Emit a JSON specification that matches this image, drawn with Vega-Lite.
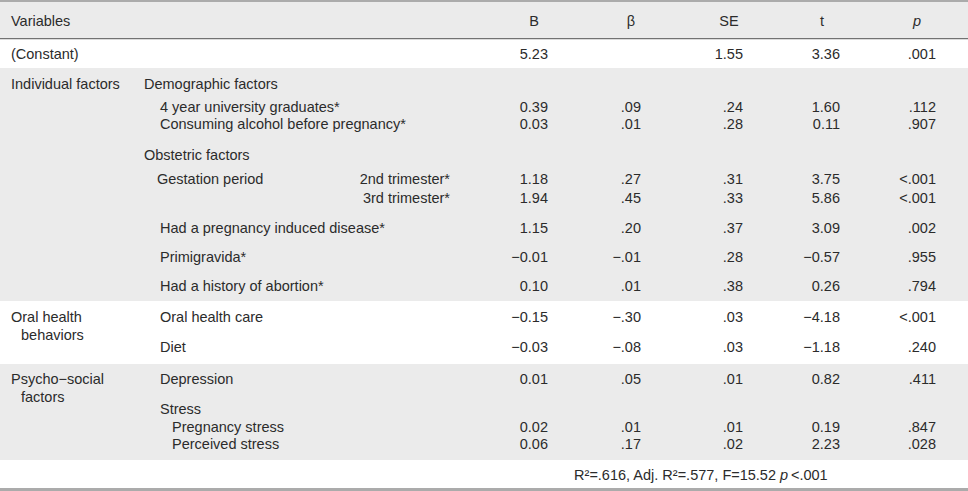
{
  "$schema": "https://vega.github.io/schema/vega-lite/v6.json",
  "width": 968,
  "height": 491,
  "padding": 0,
  "autosize": {"type": "none"},
  "background": "#ffffff",
  "config": {"view": {"stroke": null}},
  "resolve": {"scale": {"y": "independent"}},
  "layer": [
    {
      "layer": [
        {
          "data": {"values": [{"from": 1, "to": 2}, {"from": 4, "to": 5}, {"from": 6, "to": 7}]},
          "mark": {"type": "rect", "fill": "#ebebeb"},
          "encoding": {
            "y": {"field": "from", "type": "quantitative", "axis": null, "scale": {"domain": [0,1,2,3,4,5,6,7,8,9], "range": [0,2,38,39.3,68,301,364,460,488,491], "nice": false, "zero": false}},
            "y2": {"field": "to"}
          }
        },
        {
          "data": {"values": [{"from": 0, "to": 1}, {"from": 8, "to": 9}]},
          "mark": {"type": "rect", "fill": "#ababab"},
          "encoding": {
            "y": {"field": "from", "type": "quantitative", "axis": null},
            "y2": {"field": "to"}
          }
        },
        {
          "data": {"values": [{"from": 2, "to": 3}]},
          "mark": {"type": "rect", "fill": "#727272"},
          "encoding": {
            "y": {"field": "from", "type": "quantitative", "axis": null},
            "y2": {"field": "to"}
          }
        }
      ]
    },
    {
      "layer": [
        {
          "data": {"values": [
            {"col": 0, "line": 0, "text": "Variables"},
            {"col": 0, "line": 1, "text": "(Constant)"},
            {"col": 0, "line": 2, "text": "Individual factors"},
            {"col": 2, "line": 2, "text": "Demographic factors"},
            {"col": 4, "line": 3, "text": "4 year university graduates*"},
            {"col": 4, "line": 4, "text": "Consuming alcohol before pregnancy*"},
            {"col": 2, "line": 5, "text": "Obstetric factors"},
            {"col": 3, "line": 6, "text": "Gestation period"},
            {"col": 4, "line": 8, "text": "Had a pregnancy induced disease*"},
            {"col": 4, "line": 9, "text": "Primigravida*"},
            {"col": 4, "line": 10, "text": "Had a history of abortion*"},
            {"col": 0, "line": 11, "text": "Oral health"},
            {"col": 1, "line": 12, "text": "behaviors"},
            {"col": 4, "line": 11, "text": "Oral health care"},
            {"col": 4, "line": 13, "text": "Diet"},
            {"col": 0, "line": 14, "text": "Psycho−social"},
            {"col": 1, "line": 15, "text": "factors"},
            {"col": 4, "line": 14, "text": "Depression"},
            {"col": 4, "line": 16, "text": "Stress"},
            {"col": 5, "line": 17, "text": "Pregnancy stress"},
            {"col": 5, "line": 18, "text": "Perceived stress"},
            {"col": 15, "line": 19, "text": "<.001"}
          ]},
          "mark": {"type": "text", "align": "left", "baseline": "alphabetic", "font": "Liberation Sans", "fontSize": 14.5, "fill": "#2b2b2b"},
          "encoding": {
            "x": {"field": "col", "type": "quantitative", "axis": null, "scale": {"domain": [0,1,2,3,4,5,6,7,8,9,10,11,12,13,14,15,16,17,18,19], "range": [11,21,144,157,160,172,450,534,548,631,641,729,743,776,780,791,822,840,917,936], "nice": false, "zero": false}},
            "y": {"field": "line", "type": "quantitative", "axis": null, "scale": {"domain": [0,1,2,3,4,5,6,7,8,9,10,11,12,13,14,15,16,17,18,19], "range": [25.5,58.5,88.5,112.3,129.3,160.3,184.3,202.6,233,262,291,322,339.6,352,383.6,402,414.3,432,449.3,480], "nice": false, "zero": false}},
            "text": {"field": "text"}
          }
        },
        {
          "data": {"values": [
            {"col": 6, "line": 6, "text": "2nd trimester*"},
            {"col": 6, "line": 7, "text": "3rd trimester*"},
            {"col": 13, "line": 19, "text": "R²=.616, Adj. R²=.577, F=15.52"},
            {"col": 8, "line": 1, "text": "5.23"}, {"col": 12, "line": 1, "text": "1.55"}, {"col": 17, "line": 1, "text": "3.36"}, {"col": 19, "line": 1, "text": ".001"},
            {"col": 8, "line": 3, "text": "0.39"}, {"col": 10, "line": 3, "text": ".09"}, {"col": 12, "line": 3, "text": ".24"}, {"col": 17, "line": 3, "text": "1.60"}, {"col": 19, "line": 3, "text": ".112"},
            {"col": 8, "line": 4, "text": "0.03"}, {"col": 10, "line": 4, "text": ".01"}, {"col": 12, "line": 4, "text": ".28"}, {"col": 17, "line": 4, "text": "0.11"}, {"col": 19, "line": 4, "text": ".907"},
            {"col": 8, "line": 6, "text": "1.18"}, {"col": 10, "line": 6, "text": ".27"}, {"col": 12, "line": 6, "text": ".31"}, {"col": 17, "line": 6, "text": "3.75"}, {"col": 19, "line": 6, "text": "<.001"},
            {"col": 8, "line": 7, "text": "1.94"}, {"col": 10, "line": 7, "text": ".45"}, {"col": 12, "line": 7, "text": ".33"}, {"col": 17, "line": 7, "text": "5.86"}, {"col": 19, "line": 7, "text": "<.001"},
            {"col": 8, "line": 8, "text": "1.15"}, {"col": 10, "line": 8, "text": ".20"}, {"col": 12, "line": 8, "text": ".37"}, {"col": 17, "line": 8, "text": "3.09"}, {"col": 19, "line": 8, "text": ".002"},
            {"col": 8, "line": 9, "text": "−0.01"}, {"col": 10, "line": 9, "text": "−.01"}, {"col": 12, "line": 9, "text": ".28"}, {"col": 17, "line": 9, "text": "−0.57"}, {"col": 19, "line": 9, "text": ".955"},
            {"col": 8, "line": 10, "text": "0.10"}, {"col": 10, "line": 10, "text": ".01"}, {"col": 12, "line": 10, "text": ".38"}, {"col": 17, "line": 10, "text": "0.26"}, {"col": 19, "line": 10, "text": ".794"},
            {"col": 8, "line": 11, "text": "−0.15"}, {"col": 10, "line": 11, "text": "−.30"}, {"col": 12, "line": 11, "text": ".03"}, {"col": 17, "line": 11, "text": "−4.18"}, {"col": 19, "line": 11, "text": "<.001"},
            {"col": 8, "line": 13, "text": "−0.03"}, {"col": 10, "line": 13, "text": "−.08"}, {"col": 12, "line": 13, "text": ".03"}, {"col": 17, "line": 13, "text": "−1.18"}, {"col": 19, "line": 13, "text": ".240"},
            {"col": 8, "line": 14, "text": "0.01"}, {"col": 10, "line": 14, "text": ".05"}, {"col": 12, "line": 14, "text": ".01"}, {"col": 17, "line": 14, "text": "0.82"}, {"col": 19, "line": 14, "text": ".411"},
            {"col": 8, "line": 17, "text": "0.02"}, {"col": 10, "line": 17, "text": ".01"}, {"col": 12, "line": 17, "text": ".01"}, {"col": 17, "line": 17, "text": "0.19"}, {"col": 19, "line": 17, "text": ".847"},
            {"col": 8, "line": 18, "text": "0.06"}, {"col": 10, "line": 18, "text": ".17"}, {"col": 12, "line": 18, "text": ".02"}, {"col": 17, "line": 18, "text": "2.23"}, {"col": 19, "line": 18, "text": ".028"}
          ]},
          "mark": {"type": "text", "align": "right", "baseline": "alphabetic", "font": "Liberation Sans", "fontSize": 14.5, "fill": "#2b2b2b"},
          "encoding": {
            "x": {"field": "col", "type": "quantitative", "axis": null},
            "y": {"field": "line", "type": "quantitative", "axis": null},
            "text": {"field": "text"}
          }
        },
        {
          "data": {"values": [
            {"col": 7, "line": 0, "text": "B"},
            {"col": 9, "line": 0, "text": "β"},
            {"col": 11, "line": 0, "text": "SE"},
            {"col": 16, "line": 0, "text": "t"}
          ]},
          "mark": {"type": "text", "align": "center", "baseline": "alphabetic", "font": "Liberation Sans", "fontSize": 14.5, "fill": "#2b2b2b"},
          "encoding": {
            "x": {"field": "col", "type": "quantitative", "axis": null},
            "y": {"field": "line", "type": "quantitative", "axis": null},
            "text": {"field": "text"}
          }
        },
        {
          "data": {"values": [
            {"col": 18, "line": 0, "text": "p"}
          ]},
          "mark": {"type": "text", "align": "center", "baseline": "alphabetic", "font": "Liberation Sans", "fontSize": 14.5, "fontStyle": "italic", "fill": "#2b2b2b"},
          "encoding": {
            "x": {"field": "col", "type": "quantitative", "axis": null},
            "y": {"field": "line", "type": "quantitative", "axis": null},
            "text": {"field": "text"}
          }
        },
        {
          "data": {"values": [
            {"col": 14, "line": 19, "text": "p"}
          ]},
          "mark": {"type": "text", "align": "left", "baseline": "alphabetic", "font": "Liberation Sans", "fontSize": 14.5, "fontStyle": "italic", "fill": "#2b2b2b"},
          "encoding": {
            "x": {"field": "col", "type": "quantitative", "axis": null},
            "y": {"field": "line", "type": "quantitative", "axis": null},
            "text": {"field": "text"}
          }
        }
      ]
    }
  ]
}
